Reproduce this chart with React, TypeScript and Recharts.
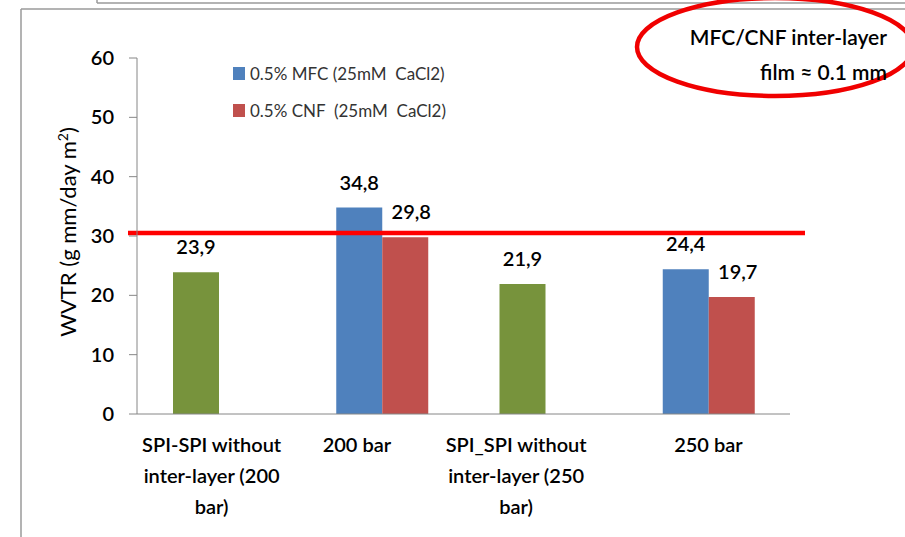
import React from 'react';
import { BarChart, Bar, XAxis, YAxis, Cell, LabelList, ReferenceLine } from 'recharts';

const categories = [
  'SPI-SPI without\ninter-layer (200\nbar)',
  '200 bar',
  'SPI_SPI without\ninter-layer (250\nbar)',
  '250 bar',
];
const firstValues = [23.9, 34.8, 21.9, 24.4];
const secondValues = [null, 29.8, null, 19.7];
const firstColors = ['#77933C', '#4F81BD', '#77933C', '#4F81BD'];
const seriesNames = ['0.5% MFC (25mM  CaCl2)', '0.5% CNF  (25mM  CaCl2)'];
const seriesColors = ['#4F81BD', '#C0504D'];
const yTicks = [0, 10, 20, 30, 40, 50, 60];
const thresholdValue = 30.5;
const noteLines = ['MFC/CNF inter-layer', 'film \u2248 0.1 mm'];

const data = categories.map((name, i) => ({
  name,
  first: firstValues[i],
  second: secondValues[i],
}));

const FONT = 'Lato, "Open Sans", sans-serif';
const AXIS = '#868686';
// small per-category nudges so wrapped labels sit like the original
const labelShift = [-7, -25, -29, 0];

const fmt = (v: number) => v.toFixed(1).replace('.', ',');

const CategoryTick = (props: any) => {
  const { x, y, payload, index } = props;
  const lines = String(payload.value).split('\n');
  const cx = x + (labelShift[index] ?? 0);
  return (
    <text x={cx} y={y} textAnchor="middle" fill="#000" fontSize={20} fontWeight={600} fontFamily={FONT}>
      {lines.map((ln, i) => (
        <tspan key={i} x={cx} dy={i === 0 ? 30 : 31}>
          {ln}
        </tspan>
      ))}
    </text>
  );
};

const valueLabel = (dx: number) => (props: any) => {
  const { x, y, width, value } = props;
  if (value == null) return null;
  return (
    <text
      x={x + width / 2 + dx}
      y={y - 18}
      textAnchor="middle"
      fill="#000"
      fontSize={20}
      fontWeight={600}
      fontFamily={FONT}
    >
      {fmt(value)}
    </text>
  );
};

const thresholdShape = (p: any) => (
  <line x1={p.x1 - 9} y1={p.y1} x2={p.x2 + 15} y2={p.y2} stroke="#FF0000" strokeWidth={4.5} />
);

export default function App() {
  return (
    <div style={{ position: 'absolute', left: 0, top: 0, width: 905, height: 537, background: '#fff', overflow: 'hidden' }}>
      <svg width={905} height={537} style={{ position: 'absolute', left: 0, top: 0 }}>
        <line x1={97} y1={0} x2={97} y2={3} stroke="#9a9a9a" strokeWidth={1.5} />
        <line x1={97} y1={3} x2={905} y2={3} stroke="#9a9a9a" strokeWidth={1.5} />
        <line x1={21} y1={9} x2={905} y2={9} stroke="#9a9a9a" strokeWidth={1.5} />
        <line x1={21} y1={9} x2={21} y2={537} stroke="#9a9a9a" strokeWidth={1.5} />
      </svg>
      <div style={{ position: 'absolute', left: 0, top: 0 }}>
        <BarChart
          width={905}
          height={537}
          data={data}
          margin={{ top: 58, right: 115, bottom: 23, left: 77 }}
          barGap={0}
          barSize={46}
        >
          <XAxis
            dataKey="name"
            height={100}
            axisLine={{ stroke: AXIS }}
            tickLine={false}
            interval={0}
            tick={<CategoryTick />}
          />
          <YAxis
            width={60}
            domain={[0, 60]}
            ticks={yTicks}
            axisLine={{ stroke: AXIS }}
            tickLine={{ stroke: AXIS }}
            tickSize={8}
            tickMargin={15}
            tick={{ fill: '#000', fontSize: 20, fontWeight: 600, fontFamily: FONT }}
          />
          <Bar dataKey="first" name={seriesNames[0]} fill={seriesColors[0]} isAnimationActive={false}>
            {data.map((_, i) => (
              <Cell key={`c-${i}`} fill={firstColors[i]} />
            ))}
            <LabelList dataKey="first" content={valueLabel(0)} />
          </Bar>
          <Bar dataKey="second" name={seriesNames[1]} fill={seriesColors[1]} isAnimationActive={false}>
            <LabelList dataKey="second" content={valueLabel(6)} />
          </Bar>
          <ReferenceLine y={thresholdValue} shape={thresholdShape} />
        </BarChart>
      </div>
      {seriesNames.map((n, i) => (
        <div
          key={n}
          style={{
            position: 'absolute',
            left: 233,
            top: 62 + i * 37,
            height: 22,
            display: 'flex',
            alignItems: 'center',
            fontFamily: FONT,
            fontSize: 17,
            color: '#333',
            whiteSpace: 'pre',
          }}
        >
          <span style={{ display: 'inline-block', width: 12, height: 13, background: seriesColors[i], marginRight: 5 }} />
          {n}
        </div>
      ))}
      <svg width={905} height={537} style={{ position: 'absolute', left: 0, top: 0, pointerEvents: 'none' }}>
        <text
          transform="translate(76,232) rotate(-90)"
          textAnchor="middle"
          fontSize={22}
          fontFamily={FONT}
          fill="#000"
        >
          WVTR (g mm/day m<tspan baselineShift="super" fontSize={14}>2</tspan>)
        </text>
        <ellipse cx={775} cy={47} rx={138} ry={49} fill="none" stroke="#F00000" strokeWidth={4.5} />
        {noteLines.map((t, i) => (
          <text key={t} x={887} y={45 + i * 35} textAnchor="end" fontSize={21} fontWeight={600} fontFamily={FONT} fill="#000">
            {t}
          </text>
        ))}
      </svg>
    </div>
  );
}
